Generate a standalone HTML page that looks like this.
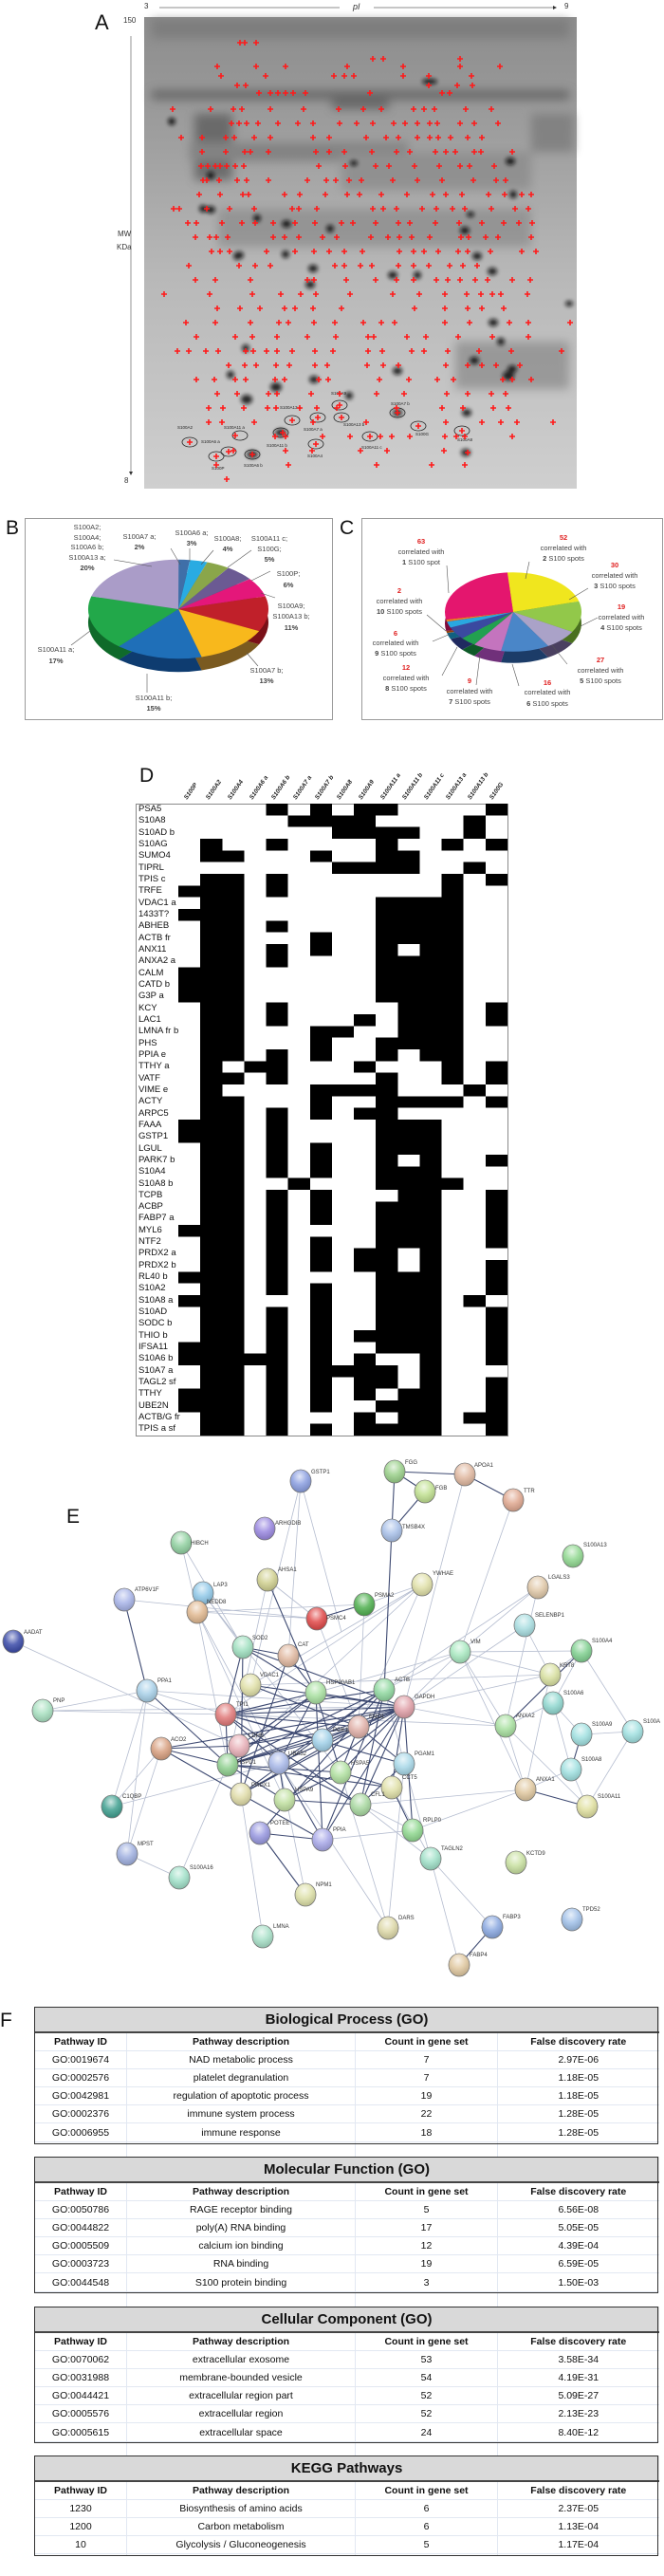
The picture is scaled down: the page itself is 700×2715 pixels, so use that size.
<!DOCTYPE html>
<html><head><meta charset="utf-8"><style>
*{margin:0;padding:0;box-sizing:border-box}
body{width:700px;height:2715px;background:#fff;position:relative;overflow:hidden;font-family:"Liberation Sans",sans-serif}
.a{position:absolute}
.big{font-size:21px;color:#111}
table.t{position:absolute;left:36px;width:658px;border-collapse:collapse;table-layout:fixed;font-family:"Liberation Sans Narrow","Liberation Sans",sans-serif;font-size:10.5px;color:#111}
table.t td{height:19.2px;text-align:center;border-left:1px solid #e2e8f2;border-bottom:1px solid #e2e8f2;padding:0;white-space:nowrap;overflow:hidden}
table.t tr.h td{font-weight:bold;font-size:10.5px}
table.t td.ti{background:#d9d9d9;font-weight:bold;font-size:15px;height:27px;border-bottom:2px solid #444;border-left:none}
.sec{position:absolute;left:36px;width:658px;border:1.5px solid #333}
.rl{position:absolute;left:146px;font-family:"Liberation Sans Narrow","Liberation Sans",sans-serif;font-size:9.5px;color:#111;line-height:12.33px}
</style></head><body>

<!-- Panel A -->
<svg class="a" style="left:0;top:0" width="700" height="530" viewBox="0 0 700 530">
<defs>
<linearGradient id="gg" x1="0" y1="0" x2="0" y2="1">
<stop offset="0" stop-color="#8c8c8c"/><stop offset="0.25" stop-color="#9e9e9e"/><stop offset="0.55" stop-color="#b8b8b8"/><stop offset="1" stop-color="#cfcfcf"/></linearGradient>
<filter id="bl"><feGaussianBlur stdDeviation="2"/></filter>
<filter id="bl2"><feGaussianBlur stdDeviation="5"/></filter>
</defs>
<text x="152" y="9" font-size="8" fill="#333">3</text>
<line x1="168" y1="8" x2="358" y2="8" stroke="#666" stroke-width="0.7"/>
<text x="372" y="10" font-size="9" font-style="italic" fill="#333">pI</text>
<line x1="394" y1="8" x2="583" y2="8" stroke="#666" stroke-width="0.7"/>
<path d="M583 6L587 8L583 10z" fill="#333"/>
<text x="595" y="9" font-size="8" fill="#333">9</text>
<text x="100" y="31" font-size="22" fill="#111">A</text>
<text x="130" y="24" font-size="8" fill="#333">150</text>
<line x1="138" y1="38" x2="138" y2="498" stroke="#666" stroke-width="0.7"/>
<path d="M136 497L138 501L140 497z" fill="#333"/>
<text x="124" y="249" font-size="8" fill="#333">MW</text>
<text x="123" y="263" font-size="8" fill="#333">KDa</text>
<text x="131" y="509" font-size="8" fill="#333">8</text>
<rect x="152" y="18" width="456" height="497" fill="url(#gg)"/>
<g filter="url(#bl2)" fill="#555" opacity="0.7">
<rect x="160" y="95" width="440" height="10"/>
<rect x="205" y="120" width="40" height="70"/>
<rect x="350" y="100" width="60" height="15"/>
<rect x="560" y="120" width="45" height="40" fill="#777"/>
<rect x="200" y="150" width="230" height="20" fill="#777"/>
<rect x="360" y="160" width="200" height="40" fill="#888"/>
<rect x="230" y="220" width="330" height="40" fill="#8a8a8a"/>
<rect x="480" y="360" width="120" height="50" fill="#888"/>
<rect x="160" y="20" width="440" height="20" fill="#777"/>
</g>
<g filter="url(#bl)" fill="#111" opacity="0.85">
<ellipse cx="181" cy="128" rx="4" ry="4"/><ellipse cx="222" cy="221" rx="5" ry="4"/><ellipse cx="252" cy="269" rx="5" ry="4"/><ellipse cx="271" cy="230" rx="4" ry="4"/><ellipse cx="302" cy="236" rx="5" ry="4"/><ellipse cx="330" cy="283" rx="5" ry="4"/><ellipse cx="348" cy="241" rx="4" ry="4"/><ellipse cx="373" cy="172" rx="4" ry="3"/><ellipse cx="414" cy="290" rx="5" ry="4"/><ellipse cx="440" cy="290" rx="4" ry="4"/><ellipse cx="490" cy="243" rx="5" ry="4"/><ellipse cx="503" cy="270" rx="5" ry="4"/><ellipse cx="519" cy="286" rx="5" ry="4"/><ellipse cx="538" cy="170" rx="5" ry="4"/><ellipse cx="541" cy="205" rx="4" ry="4"/><ellipse cx="496" cy="226" rx="4" ry="3"/><ellipse cx="260" cy="421" rx="6" ry="5"/><ellipse cx="291" cy="408" rx="6" ry="5"/><ellipse cx="331" cy="400" rx="5" ry="4"/><ellipse cx="419" cy="391" rx="5" ry="4"/><ellipse cx="500" cy="380" rx="5" ry="4"/><ellipse cx="536" cy="396" rx="6" ry="5"/><ellipse cx="540" cy="389" rx="5" ry="4"/><ellipse cx="528" cy="360" rx="4" ry="4"/><ellipse cx="492" cy="435" rx="5" ry="4"/><ellipse cx="259" cy="367" rx="4" ry="4"/><ellipse cx="243" cy="395" rx="4" ry="4"/><ellipse cx="327" cy="300" rx="5" ry="4"/><ellipse cx="301" cy="268" rx="4" ry="4"/><ellipse cx="222" cy="185" rx="4" ry="4"/><ellipse cx="214" cy="220" rx="4" ry="4"/><ellipse cx="250" cy="270" rx="4" ry="4"/><ellipse cx="520" cy="340" rx="5" ry="4"/><ellipse cx="600" cy="320" rx="4" ry="3"/><ellipse cx="266" cy="479" rx="6" ry="4"/><ellipse cx="296" cy="456" rx="6" ry="4"/><ellipse cx="419" cy="435" rx="5" ry="4"/><ellipse cx="368" cy="417" rx="4" ry="4"/><ellipse cx="491" cy="477" rx="5" ry="4"/><ellipse cx="453" cy="86" rx="8" ry="3"/>
</g>
<g fill="none" stroke="#222" stroke-width="0.8">
<ellipse cx="200" cy="466" rx="8" ry="5"/><ellipse cx="228" cy="481" rx="8" ry="5"/><ellipse cx="241" cy="476" rx="8" ry="5"/><ellipse cx="253" cy="459" rx="8" ry="5"/><ellipse cx="266" cy="479" rx="8" ry="5"/><ellipse cx="296" cy="456" rx="8" ry="5"/><ellipse cx="308" cy="443" rx="8" ry="5"/><ellipse cx="335" cy="440" rx="8" ry="5"/><ellipse cx="333" cy="468" rx="8" ry="5"/><ellipse cx="358" cy="427" rx="8" ry="5"/><ellipse cx="360" cy="440" rx="8" ry="5"/><ellipse cx="390" cy="460" rx="8" ry="5"/><ellipse cx="419" cy="435" rx="8" ry="5"/><ellipse cx="441" cy="449" rx="8" ry="5"/><ellipse cx="487" cy="454" rx="8" ry="5"/>
</g>
<g font-size="4.5" fill="#222">
<text x="349" y="416">S100A9</text><text x="295" y="431">S100A13 a</text><text x="412" y="427">S100A7 b</text><text x="187" y="452">S100A2</text><text x="236" y="452">S100A11 a</text><text x="320" y="454">S100A7 a</text><text x="362" y="449">S100A13 b</text><text x="438" y="459">S100G</text><text x="482" y="465">S100A8</text><text x="212" y="467">S100A6 a</text><text x="281" y="471">S100A11 b</text><text x="381" y="473">S100A11 c</text><text x="324" y="482">S100A4</text><text x="223" y="495">S100P</text><text x="257" y="492">S100A6 b</text>
</g>
<path stroke="#ff1a1a" stroke-width="1.6" fill="none" d="
M250 45h6M253 42v6M255 45h6M258 42v6M267 45h6M270 42v6
M390 62h6M393 59v6M401 62h6M404 59v6M482 62h6M485 59v6
M226 70h6M229 67v6M267 70h6M270 67v6M298 70h6M301 67v6M363 70h6M366 67v6M422 70h6M425 67v6M482 70h6M485 67v6M524 70h6M527 67v6
M230 80h6M233 77v6M277 80h6M280 77v6M349 80h6M352 77v6M360 80h6M363 77v6M370 80h6M373 77v6M422 80h6M425 77v6M449 80h6M452 77v6M494 80h6M497 77v6
M247 90h6M250 87v6M256 90h6M259 87v6M449 90h6M452 87v6M479 90h6M482 87v6M495 90h6M498 87v6
M270 98h6M273 95v6M282 98h6M285 95v6M290 98h6M293 95v6M298 98h6M301 95v6M306 98h6M309 95v6M319 98h6M322 95v6M387 98h6M390 95v6M463 98h6M466 95v6M471 98h6M474 95v6
M179 115h6M182 112v6M219 115h6M222 112v6M243 115h6M246 112v6M252 115h6M255 112v6M282 115h6M285 112v6M317 115h6M320 112v6M354 115h6M357 112v6M380 115h6M383 112v6M399 115h6M402 112v6M433 115h6M436 112v6M444 115h6M447 112v6M455 115h6M458 112v6M488 115h6M491 112v6M515 115h6M518 112v6
M241 130h6M244 127v6M249 130h6M252 127v6M257 130h6M260 127v6M269 130h6M272 127v6M290 130h6M293 127v6M311 130h6M314 127v6M327 130h6M330 127v6M355 130h6M358 127v6M373 130h6M376 127v6M390 130h6M393 127v6M412 130h6M415 127v6M424 130h6M427 127v6M437 130h6M440 127v6M450 130h6M453 127v6M458 130h6M461 127v6M482 130h6M485 127v6M497 130h6M500 127v6M522 130h6M525 127v6
M188 145h6M191 142v6M210 145h6M213 142v6M235 145h6M238 142v6M244 145h6M247 142v6M265 145h6M268 142v6M282 145h6M285 142v6M327 145h6M330 142v6M344 145h6M347 142v6M383 145h6M386 142v6M404 145h6M407 142v6M417 145h6M420 142v6M437 145h6M440 142v6M450 145h6M453 142v6M459 145h6M462 142v6M472 145h6M475 142v6M490 145h6M493 142v6M505 145h6M508 142v6
M210 160h6M213 157v6M235 160h6M238 157v6M255 160h6M258 157v6M261 160h6M264 157v6M280 160h6M283 157v6M330 160h6M333 157v6M344 160h6M347 157v6M360 160h6M363 157v6M389 160h6M392 157v6M415 160h6M418 157v6M429 160h6M432 157v6M456 160h6M459 157v6M467 160h6M470 157v6M477 160h6M480 157v6M497 160h6M500 157v6M504 160h6M507 157v6M537 160h6M540 157v6
M209 175h6M212 172v6M216 175h6M219 172v6M224 175h6M227 172v6M229 175h6M232 172v6M236 175h6M239 172v6M245 175h6M248 172v6M254 175h6M257 172v6M333 175h6M336 172v6M361 175h6M364 172v6M393 175h6M396 172v6M407 175h6M410 172v6M434 175h6M437 172v6M460 175h6M463 172v6M482 175h6M485 172v6M492 175h6M495 172v6M518 175h6M521 172v6
M211 190h6M214 187v6M215 190h6M218 187v6M228 190h6M231 187v6M247 190h6M250 187v6M257 190h6M260 187v6M280 190h6M283 187v6M321 190h6M324 187v6M341 190h6M344 187v6M351 190h6M354 187v6M365 190h6M368 187v6M378 190h6M381 187v6M411 190h6M414 187v6M437 190h6M440 187v6M463 190h6M466 187v6M496 190h6M499 187v6M520 190h6M523 187v6M530 190h6M533 187v6
M207 205h6M210 202v6M229 205h6M232 202v6M253 205h6M256 202v6M259 205h6M262 202v6M297 205h6M300 202v6M313 205h6M316 202v6M340 205h6M343 202v6M363 205h6M366 202v6M376 205h6M379 202v6M399 205h6M402 202v6M426 205h6M429 202v6M453 205h6M456 202v6M467 205h6M470 202v6M484 205h6M487 202v6M512 205h6M515 202v6M529 205h6M532 202v6M547 205h6M550 202v6M557 205h6M560 202v6
M180 220h6M183 217v6M186 220h6M189 217v6M215 220h6M218 217v6M239 220h6M242 217v6M265 220h6M268 217v6M305 220h6M308 217v6M312 220h6M315 217v6M331 220h6M334 217v6M390 220h6M393 217v6M401 220h6M404 217v6M415 220h6M418 217v6M442 220h6M445 217v6M457 220h6M460 217v6M474 220h6M477 217v6M487 220h6M490 217v6M515 220h6M518 217v6M540 220h6M543 217v6M554 220h6M557 217v6
M195 235h6M198 232v6M204 235h6M207 232v6M231 235h6M234 232v6M252 235h6M255 232v6M266 235h6M269 232v6M285 235h6M288 232v6M308 235h6M311 232v6M329 235h6M332 232v6M357 235h6M360 232v6M369 235h6M372 232v6M393 235h6M396 232v6M417 235h6M420 232v6M429 235h6M432 232v6M456 235h6M459 232v6M481 235h6M484 232v6M505 235h6M508 232v6M528 235h6M531 232v6M544 235h6M547 232v6M558 235h6M561 232v6
M203 250h6M206 247v6M218 250h6M221 247v6M225 250h6M228 247v6M237 250h6M240 247v6M285 250h6M288 247v6M297 250h6M300 247v6M312 250h6M315 247v6M337 250h6M340 247v6M352 250h6M355 247v6M388 250h6M391 247v6M406 250h6M409 247v6M418 250h6M421 247v6M431 250h6M434 247v6M450 250h6M453 247v6M483 250h6M486 247v6M491 250h6M494 247v6M509 250h6M512 247v6M522 250h6M525 247v6M557 250h6M560 247v6
M220 265h6M223 262v6M229 265h6M232 262v6M239 265h6M242 262v6M278 265h6M281 262v6M308 265h6M311 262v6M328 265h6M331 262v6M344 265h6M347 262v6M360 265h6M363 262v6M379 265h6M382 262v6M418 265h6M421 262v6M433 265h6M436 262v6M444 265h6M447 262v6M459 265h6M462 262v6M480 265h6M483 262v6M490 265h6M493 262v6M514 265h6M517 262v6M547 265h6M550 262v6M562 265h6M565 262v6
M196 280h6M199 277v6M249 280h6M252 277v6M266 280h6M269 277v6M282 280h6M285 277v6M350 280h6M353 277v6M360 280h6M363 277v6M377 280h6M380 277v6M389 280h6M392 277v6M417 280h6M420 277v6M433 280h6M436 277v6M449 280h6M452 277v6M471 280h6M474 277v6M485 280h6M488 277v6M500 280h6M503 277v6
M203 295h6M206 292v6M224 295h6M227 292v6M261 295h6M264 292v6M321 295h6M324 292v6M328 295h6M331 292v6M362 295h6M365 292v6M393 295h6M396 292v6M415 295h6M418 292v6M433 295h6M436 292v6M457 295h6M460 292v6M469 295h6M472 292v6M482 295h6M485 292v6M498 295h6M501 292v6M511 295h6M514 292v6M537 295h6M540 292v6M556 295h6M559 292v6
M170 310h6M173 307v6M218 310h6M221 307v6M263 310h6M266 307v6M293 310h6M296 307v6M314 310h6M317 307v6M330 310h6M333 307v6M366 310h6M369 307v6M411 310h6M414 307v6M439 310h6M442 307v6M466 310h6M469 307v6M489 310h6M492 307v6M504 310h6M507 307v6M516 310h6M519 307v6M525 310h6M528 307v6M553 310h6M556 307v6
M226 325h6M229 322v6M250 325h6M253 322v6M271 325h6M274 322v6M297 325h6M300 322v6M308 325h6M311 322v6M327 325h6M330 322v6M357 325h6M360 322v6M434 325h6M437 322v6M466 325h6M469 322v6M490 325h6M493 322v6M505 325h6M508 322v6M528 325h6M531 322v6
M193 340h6M196 337v6M224 340h6M227 337v6M261 340h6M264 337v6M291 340h6M294 337v6M301 340h6M304 337v6M328 340h6M331 337v6M350 340h6M353 337v6M380 340h6M383 337v6M399 340h6M402 337v6M413 340h6M416 337v6M466 340h6M469 337v6M492 340h6M495 337v6M534 340h6M537 337v6M554 340h6M557 337v6M598 340h6M601 337v6
M204 355h6M207 352v6M245 355h6M248 352v6M263 355h6M266 352v6M289 355h6M292 352v6M321 355h6M324 352v6M351 355h6M354 352v6M385 355h6M388 352v6M391 355h6M394 352v6M426 355h6M429 352v6M446 355h6M449 352v6M480 355h6M483 352v6M516 355h6M519 352v6M554 355h6M557 352v6
M184 370h6M187 367v6M196 370h6M199 367v6M214 370h6M217 367v6M227 370h6M230 367v6M256 370h6M259 367v6M264 370h6M267 367v6M278 370h6M281 367v6M289 370h6M292 367v6M305 370h6M308 367v6M329 370h6M332 367v6M348 370h6M351 367v6M385 370h6M388 367v6M400 370h6M403 367v6M431 370h6M434 367v6M444 370h6M447 367v6M469 370h6M472 367v6M502 370h6M505 367v6M536 370h6M539 367v6M589 370h6M592 367v6
M238 385h6M241 382v6M255 385h6M258 382v6M267 385h6M270 382v6M288 385h6M291 382v6M302 385h6M305 382v6M329 385h6M332 382v6M342 385h6M345 382v6M384 385h6M387 382v6M401 385h6M404 382v6M417 385h6M420 382v6M467 385h6M470 382v6M490 385h6M493 382v6M505 385h6M508 382v6M520 385h6M523 382v6M545 385h6M548 382v6
M204 400h6M207 397v6M223 400h6M226 397v6M245 400h6M248 397v6M256 400h6M259 397v6M287 400h6M290 397v6M297 400h6M300 397v6M333 400h6M336 397v6M343 400h6M346 397v6M397 400h6M400 397v6M428 400h6M431 397v6M458 400h6M461 397v6M475 400h6M478 397v6M527 400h6M530 397v6M537 400h6M540 397v6M557 400h6M560 397v6
M226 415h6M229 412v6M247 415h6M250 412v6M280 415h6M283 412v6M289 415h6M292 412v6M325 415h6M328 412v6M355 415h6M358 412v6M394 415h6M397 412v6M423 415h6M426 412v6M468 415h6M471 412v6M490 415h6M493 412v6M515 415h6M518 412v6M530 415h6M533 412v6
M217 430h6M220 427v6M232 430h6M235 427v6M254 430h6M257 427v6M279 430h6M282 427v6M288 430h6M291 427v6M313 430h6M316 427v6M331 430h6M334 427v6M352 430h6M355 427v6M415 430h6M418 427v6M463 430h6M466 427v6M485 430h6M488 427v6M517 430h6M520 427v6M533 430h6M536 427v6
M197 466h6M200 463v6M217 445h6M220 442v6M231 445h6M234 442v6M245 459h6M248 456v6M265 445h6M268 442v6M295 456h6M298 453v6M327 445h6M330 442v6M332 440h6M335 437v6M355 427h6M358 424v6M357 440h6M360 437v6M383 445h6M386 442v6M387 460h6M390 457v6M416 435h6M419 432v6M438 449h6M441 446v6M467 445h6M470 442v6M484 454h6M487 451v6M505 445h6M508 442v6M525 445h6M528 442v6M542 445h6M545 442v6M580 445h6M583 442v6
M225 481h6M228 478v6M238 476h6M241 473v6M263 479h6M266 476v6M287 460h6M290 457v6M298 460h6M301 457v6M305 443h6M308 440v6M330 468h6M333 465v6M337 460h6M340 457v6M366 460h6M369 457v6M398 460h6M401 457v6M410 460h6M413 457v6M429 460h6M432 457v6M466 460h6M469 457v6M478 460h6M481 457v6M487 460h6M490 457v6M537 460h6M540 457v6
M243 475h6M246 472v6M298 475h6M301 472v6M326 475h6M329 472v6M377 475h6M380 472v6M405 475h6M408 472v6M465 475h6M468 472v6M490 477h6M493 474v6
M225 490h6M228 487v6M301 490h6M304 487v6M394 490h6M397 487v6M452 490h6M455 487v6M487 490h6M490 487v6M236 505h6M239 502v6
"/>
</svg>

<!-- Panel B -->
<div class="a" style="left:26px;top:546px;width:325px;height:213px;border:1px solid #9a9a9a"></div>
<div class="a big" style="left:6px;top:545px">B</div>
<svg class="a" style="left:0;top:540px" width="360" height="225" viewBox="0 540 360 225">
<g transform="translate(188,656) scale(1,0.55)" fill="none" stroke-width="95">
<circle r="47.5" stroke="#2c4a70" stroke-dasharray="6.22 298.45" transform="rotate(-90)"/>
<circle r="47.5" stroke="#1a7aa0" stroke-dasharray="9.33 298.45" transform="rotate(-82.5)"/>
<circle r="47.5" stroke="#5c7530" stroke-dasharray="12.44 298.45" transform="rotate(-71.25)"/>
<circle r="47.5" stroke="#463a68" stroke-dasharray="15.54 298.45" transform="rotate(-56.25)"/>
<circle r="47.5" stroke="#8a1050" stroke-dasharray="18.65 298.45" transform="rotate(-37.5)"/>
<circle r="47.5" stroke="#7a1018" stroke-dasharray="34.2 298.45" transform="rotate(-15)"/>
<circle r="47.5" stroke="#7a5a20" stroke-dasharray="40.41 298.45" transform="rotate(26.25)"/>
<circle r="47.5" stroke="#0e3c70" stroke-dasharray="46.63 298.45" transform="rotate(75)"/>
<circle r="47.5" stroke="#0f6a2a" stroke-dasharray="52.85 298.45" transform="rotate(131.25)"/>
<circle r="47.5" stroke="#5a4a6a" stroke-dasharray="62.18 298.45" transform="rotate(195)"/>
</g>
<g transform="translate(188,642) scale(1,0.55)" fill="none" stroke-width="95">
<circle r="47.5" stroke="#3f6fa8" stroke-dasharray="6.22 298.45" transform="rotate(-90)"/>
<circle r="47.5" stroke="#29abe2" stroke-dasharray="9.33 298.45" transform="rotate(-82.5)"/>
<circle r="47.5" stroke="#8aa64a" stroke-dasharray="12.44 298.45" transform="rotate(-71.25)"/>
<circle r="47.5" stroke="#6b5a93" stroke-dasharray="15.54 298.45" transform="rotate(-56.25)"/>
<circle r="47.5" stroke="#e4177a" stroke-dasharray="18.65 298.45" transform="rotate(-37.5)"/>
<circle r="47.5" stroke="#c0202a" stroke-dasharray="34.2 298.45" transform="rotate(-15)"/>
<circle r="47.5" stroke="#f8b81c" stroke-dasharray="40.41 298.45" transform="rotate(26.25)"/>
<circle r="47.5" stroke="#1f6fb8" stroke-dasharray="46.63 298.45" transform="rotate(75)"/>
<circle r="47.5" stroke="#22a84a" stroke-dasharray="52.85 298.45" transform="rotate(131.25)"/>
<circle r="47.5" stroke="#aa9cc8" stroke-dasharray="62.18 298.45" transform="rotate(195)"/>
</g>
<g stroke="#555" stroke-width="0.6" fill="none">
<path d="M120 590L160 597M180 578L190 595M200 578L200 592M225 580L212 595M265 580L240 598M285 602L265 612M290 630L275 625M272 702L260 688M155 730L155 710M75 680L95 665"/>
</g>
<g font-size="7.5" fill="#444" text-anchor="middle">
<text x="92" y="558">S100A2;</text><text x="92" y="569">S100A4;</text><text x="92" y="579">S100A6 b;</text><text x="92" y="590">S100A13 a;</text><text x="92" y="601" font-weight="bold">20%</text>
<text x="147" y="568">S100A7 a;</text><text x="147" y="579" font-weight="bold">2%</text>
<text x="202" y="564">S100A6 a;</text><text x="202" y="575" font-weight="bold">3%</text>
<text x="240" y="570">S100A8;</text><text x="240" y="581" font-weight="bold">4%</text>
<text x="284" y="570">S100A11 c;</text><text x="284" y="581">S100G;</text><text x="284" y="592" font-weight="bold">5%</text>
<text x="304" y="607">S100P;</text><text x="304" y="619" font-weight="bold">6%</text>
<text x="307" y="641">S100A9;</text><text x="307" y="652">S100A13 b;</text><text x="307" y="664" font-weight="bold">11%</text>
<text x="281" y="709">S100A7 b;</text><text x="281" y="720" font-weight="bold">13%</text>
<text x="162" y="738">S100A11 b;</text><text x="162" y="749" font-weight="bold">15%</text>
<text x="59" y="687">S100A11 a;</text><text x="59" y="699" font-weight="bold">17%</text>
</g>
</svg>

<!-- Panel C -->
<div class="a" style="left:381px;top:546px;width:318px;height:213px;border:1px solid #9a9a9a"></div>
<div class="a big" style="left:358px;top:545px">C</div>
<svg class="a" style="left:380px;top:540px" width="320" height="225" viewBox="380 540 320 225">
<g transform="translate(541,657) scale(1,0.58)" fill="none" stroke-width="72">
<circle r="36" stroke="#7a7a10" stroke-dasharray="49.83 226.19" transform="rotate(-95)"/>
<circle r="36" stroke="#4a7020" stroke-dasharray="28.78 226.19" transform="rotate(-15.7)"/>
<circle r="36" stroke="#4a4060" stroke-dasharray="18.22 226.19" transform="rotate(30.1)"/>
<circle r="36" stroke="#1c3c68" stroke-dasharray="25.89 226.19" transform="rotate(59.1)"/>
<circle r="36" stroke="#70307a" stroke-dasharray="15.33 226.19" transform="rotate(100.3)"/>
<circle r="36" stroke="#0e5a28" stroke-dasharray="8.61 226.19" transform="rotate(124.7)"/>
<circle r="36" stroke="#202a60" stroke-dasharray="11.5 226.19" transform="rotate(138.4)"/>
<circle r="36" stroke="#106080" stroke-dasharray="5.78 226.19" transform="rotate(156.7)"/>
<circle r="36" stroke="#904010" stroke-dasharray="1.95 226.19" transform="rotate(165.9)"/>
<circle r="36" stroke="#800a3a" stroke-dasharray="60.38 226.19" transform="rotate(169)"/>
</g>
<g transform="translate(541,645) scale(1,0.58)" fill="none" stroke-width="72">
<circle r="36" stroke="#f0e61e" stroke-dasharray="49.83 226.19" transform="rotate(-95)"/>
<circle r="36" stroke="#92c84a" stroke-dasharray="28.78 226.19" transform="rotate(-15.7)"/>
<circle r="36" stroke="#aaa2c8" stroke-dasharray="18.22 226.19" transform="rotate(30.1)"/>
<circle r="36" stroke="#4a86c8" stroke-dasharray="25.89 226.19" transform="rotate(59.1)"/>
<circle r="36" stroke="#c474be" stroke-dasharray="15.33 226.19" transform="rotate(100.3)"/>
<circle r="36" stroke="#22a050" stroke-dasharray="8.61 226.19" transform="rotate(124.7)"/>
<circle r="36" stroke="#3a4aa0" stroke-dasharray="11.5 226.19" transform="rotate(138.4)"/>
<circle r="36" stroke="#29a8e0" stroke-dasharray="5.78 226.19" transform="rotate(156.7)"/>
<circle r="36" stroke="#f08020" stroke-dasharray="1.95 226.19" transform="rotate(165.9)"/>
<circle r="36" stroke="#e4166e" stroke-dasharray="60.38 226.19" transform="rotate(169)"/>
</g>
<g stroke="#555" stroke-width="0.6" fill="none">
<path d="M471 596L473 625M558 592L554 610M620 620L600 632M630 651L612 660M450 648L470 665M456 676L475 668M466 712L482 682M502 722L506 690M547 723L540 700M598 700L582 680"/>
</g>
<g font-size="7.5" fill="#444" text-anchor="middle">
<text x="444" y="573" fill="#e02020" font-weight="bold">63</text><text x="444" y="584">correlated with</text><text x="444" y="595"><tspan font-weight="bold">1</tspan> S100 spot</text>
<text x="594" y="569" fill="#e02020" font-weight="bold">52</text><text x="594" y="580">correlated with</text><text x="594" y="591"><tspan font-weight="bold">2</tspan> S100 spots</text>
<text x="648" y="598" fill="#e02020" font-weight="bold">30</text><text x="648" y="609">correlated with</text><text x="648" y="620"><tspan font-weight="bold">3</tspan> S100 spots</text>
<text x="421" y="625" fill="#e02020" font-weight="bold">2</text><text x="421" y="636">correlated with</text><text x="421" y="647"><tspan font-weight="bold">10</tspan> S100 spots</text>
<text x="655" y="642" fill="#e02020" font-weight="bold">19</text><text x="655" y="653">correlated with</text><text x="655" y="664"><tspan font-weight="bold">4</tspan> S100 spots</text>
<text x="417" y="670" fill="#e02020" font-weight="bold">6</text><text x="417" y="680">correlated with</text><text x="417" y="691"><tspan font-weight="bold">9</tspan> S100 spots</text>
<text x="633" y="698" fill="#e02020" font-weight="bold">27</text><text x="633" y="709">correlated with</text><text x="633" y="720"><tspan font-weight="bold">5</tspan> S100 spots</text>
<text x="428" y="706" fill="#e02020" font-weight="bold">12</text><text x="428" y="717">correlated with</text><text x="428" y="728"><tspan font-weight="bold">8</tspan> S100 spots</text>
<text x="495" y="720" fill="#e02020" font-weight="bold">9</text><text x="495" y="731">correlated with</text><text x="495" y="742"><tspan font-weight="bold">7</tspan> S100 spots</text>
<text x="577" y="722" fill="#e02020" font-weight="bold">16</text><text x="577" y="732">correlated with</text><text x="577" y="744"><tspan font-weight="bold">6</tspan> S100 spots</text>
</g>
</svg>

<!-- Panel D -->
<div class="a big" style="left:147px;top:806px">D</div>
<svg class="a" style="left:180px;top:790px" width="370" height="60" viewBox="180 790 370 60">
<g font-size="6.5" font-weight="bold" font-style="italic" fill="#222">
<text transform="translate(197,843) rotate(-55)">S100P</text>
<text transform="translate(220,843) rotate(-55)">S100A2</text>
<text transform="translate(243,843) rotate(-55)">S100A4</text>
<text transform="translate(266,843) rotate(-55)">S100A6 a</text>
<text transform="translate(289,843) rotate(-55)">S100A6 b</text>
<text transform="translate(312,843) rotate(-55)">S100A7 a</text>
<text transform="translate(335,843) rotate(-55)">S100A7 b</text>
<text transform="translate(358,843) rotate(-55)">S100A8</text>
<text transform="translate(381,843) rotate(-55)">S100A9</text>
<text transform="translate(404,843) rotate(-55)">S100A11 a</text>
<text transform="translate(427,843) rotate(-55)">S100A11 b</text>
<text transform="translate(450,843) rotate(-55)">S100A11 c</text>
<text transform="translate(473,843) rotate(-55)">S100A13 a</text>
<text transform="translate(496,843) rotate(-55)">S100A13 b</text>
<text transform="translate(519,843) rotate(-55)">S100G</text>
</g>
</svg>
<div class="a" style="left:143px;top:847px;width:393px;height:667px;border:1px solid #8a8a8a"></div>
<svg class="a" style="left:188px;top:847px" width="347" height="666" viewBox="0 0 15 54" preserveAspectRatio="none" shape-rendering="crispEdges">
<g fill="#000">
<rect x="4" y="0" width="1" height="1"/><rect x="6" y="0" width="1" height="1"/><rect x="8" y="0" width="2" height="1"/><rect x="14" y="0" width="1" height="1"/>
<rect x="5" y="1" width="4" height="1"/><rect x="13" y="1" width="1" height="1"/>
<rect x="7" y="2" width="2" height="1"/><rect x="9" y="2" width="2" height="1"/><rect x="13" y="2" width="1" height="1"/>
<rect x="1" y="3" width="1" height="1"/><rect x="4" y="3" width="1" height="1"/><rect x="9" y="3" width="1" height="1"/><rect x="12" y="3" width="1" height="1"/><rect x="14" y="3" width="1" height="1"/>
<rect x="1" y="4" width="2" height="1"/><rect x="6" y="4" width="1" height="1"/><rect x="9" y="4" width="2" height="1"/>
<rect x="7" y="5" width="2" height="1"/><rect x="9" y="5" width="2" height="1"/><rect x="13" y="5" width="1" height="1"/>
<rect x="1" y="6" width="2" height="1"/><rect x="4" y="6" width="1" height="1"/><rect x="12" y="6" width="1" height="1"/><rect x="14" y="6" width="1" height="1"/>
<rect x="0" y="7" width="3" height="1"/><rect x="4" y="7" width="1" height="1"/><rect x="12" y="7" width="1" height="1"/>
<rect x="1" y="8" width="2" height="1"/><rect x="9" y="8" width="4" height="1"/>
<rect x="0" y="9" width="3" height="1"/><rect x="9" y="9" width="4" height="1"/>
<rect x="1" y="10" width="2" height="1"/><rect x="4" y="10" width="1" height="1"/><rect x="9" y="10" width="4" height="1"/>
<rect x="1" y="11" width="2" height="1"/><rect x="6" y="11" width="1" height="1"/><rect x="9" y="11" width="4" height="1"/>
<rect x="1" y="12" width="2" height="1"/><rect x="4" y="12" width="1" height="1"/><rect x="6" y="12" width="1" height="1"/><rect x="9" y="12" width="1" height="1"/><rect x="11" y="12" width="2" height="1"/>
<rect x="1" y="13" width="2" height="1"/><rect x="4" y="13" width="1" height="1"/><rect x="9" y="13" width="4" height="1"/>
<rect x="0" y="14" width="3" height="3"/><rect x="9" y="14" width="4" height="3"/>
<rect x="1" y="17" width="2" height="1"/><rect x="4" y="17" width="1" height="1"/><rect x="10" y="17" width="3" height="1"/><rect x="14" y="17" width="1" height="1"/>
<rect x="1" y="18" width="2" height="1"/><rect x="4" y="18" width="1" height="1"/><rect x="8" y="18" width="1" height="1"/><rect x="10" y="18" width="3" height="1"/><rect x="14" y="18" width="1" height="1"/>
<rect x="1" y="19" width="2" height="1"/><rect x="6" y="19" width="2" height="1"/><rect x="10" y="19" width="3" height="1"/>
<rect x="1" y="20" width="2" height="1"/><rect x="6" y="20" width="1" height="1"/><rect x="9" y="20" width="4" height="1"/>
<rect x="1" y="21" width="2" height="1"/><rect x="4" y="21" width="1" height="1"/><rect x="6" y="21" width="1" height="1"/><rect x="9" y="21" width="1" height="1"/><rect x="11" y="21" width="2" height="1"/>
<rect x="1" y="22" width="1" height="1"/><rect x="3" y="22" width="2" height="1"/><rect x="8" y="22" width="1" height="1"/><rect x="12" y="22" width="1" height="1"/><rect x="14" y="22" width="1" height="1"/>
<rect x="1" y="23" width="2" height="1"/><rect x="4" y="23" width="1" height="1"/><rect x="9" y="23" width="1" height="1"/><rect x="12" y="23" width="1" height="1"/><rect x="14" y="23" width="1" height="1"/>
<rect x="1" y="24" width="1" height="1"/><rect x="6" y="24" width="3" height="1"/><rect x="9" y="24" width="1" height="1"/><rect x="13" y="24" width="1" height="1"/>
<rect x="1" y="25" width="2" height="1"/><rect x="6" y="25" width="1" height="1"/><rect x="9" y="25" width="4" height="1"/><rect x="14" y="25" width="1" height="1"/>
<rect x="1" y="26" width="2" height="1"/><rect x="4" y="26" width="1" height="1"/><rect x="6" y="26" width="1" height="1"/><rect x="8" y="26" width="2" height="1"/>
<rect x="0" y="27" width="3" height="2"/><rect x="4" y="27" width="1" height="2"/><rect x="9" y="27" width="3" height="2"/>
<rect x="1" y="29" width="2" height="1"/><rect x="4" y="29" width="1" height="1"/><rect x="6" y="29" width="1" height="1"/><rect x="9" y="29" width="3" height="1"/>
<rect x="1" y="30" width="2" height="1"/><rect x="4" y="30" width="1" height="1"/><rect x="6" y="30" width="1" height="1"/><rect x="9" y="30" width="1" height="1"/><rect x="11" y="30" width="1" height="1"/><rect x="14" y="30" width="1" height="1"/>
<rect x="1" y="31" width="2" height="1"/><rect x="4" y="31" width="1" height="1"/><rect x="6" y="31" width="1" height="1"/><rect x="9" y="31" width="3" height="1"/>
<rect x="1" y="32" width="2" height="1"/><rect x="5" y="32" width="1" height="1"/><rect x="9" y="32" width="4" height="1"/>
<rect x="1" y="33" width="2" height="1"/><rect x="4" y="33" width="1" height="1"/><rect x="6" y="33" width="1" height="1"/><rect x="10" y="33" width="2" height="1"/><rect x="14" y="33" width="1" height="1"/>
<rect x="1" y="34" width="2" height="2"/><rect x="4" y="34" width="1" height="2"/><rect x="6" y="34" width="1" height="2"/><rect x="9" y="34" width="3" height="2"/><rect x="14" y="34" width="1" height="2"/>
<rect x="0" y="36" width="3" height="1"/><rect x="4" y="36" width="1" height="1"/><rect x="9" y="36" width="3" height="1"/><rect x="14" y="36" width="1" height="1"/>
<rect x="1" y="37" width="2" height="1"/><rect x="4" y="37" width="1" height="1"/><rect x="6" y="37" width="1" height="1"/><rect x="9" y="37" width="3" height="1"/><rect x="14" y="37" width="1" height="1"/>
<rect x="1" y="38" width="2" height="1"/><rect x="4" y="38" width="1" height="1"/><rect x="6" y="38" width="1" height="1"/><rect x="8" y="38" width="2" height="1"/><rect x="11" y="38" width="1" height="1"/>
<rect x="1" y="39" width="2" height="1"/><rect x="4" y="39" width="1" height="1"/><rect x="6" y="39" width="1" height="1"/><rect x="8" y="39" width="1" height="1"/><rect x="9" y="39" width="1" height="1"/><rect x="11" y="39" width="1" height="1"/><rect x="14" y="39" width="1" height="1"/>
<rect x="0" y="40" width="3" height="1"/><rect x="4" y="40" width="1" height="1"/><rect x="9" y="40" width="3" height="1"/><rect x="14" y="40" width="1" height="1"/>
<rect x="1" y="41" width="2" height="1"/><rect x="4" y="41" width="1" height="1"/><rect x="6" y="41" width="1" height="1"/><rect x="9" y="41" width="3" height="1"/><rect x="14" y="41" width="1" height="1"/>
<rect x="0" y="42" width="3" height="1"/><rect x="6" y="42" width="1" height="1"/><rect x="9" y="42" width="3" height="1"/><rect x="13" y="42" width="1" height="1"/>
<rect x="1" y="43" width="2" height="2"/><rect x="4" y="43" width="1" height="2"/><rect x="6" y="43" width="1" height="2"/><rect x="9" y="43" width="3" height="2"/><rect x="14" y="43" width="1" height="2"/>
<rect x="1" y="45" width="2" height="1"/><rect x="4" y="45" width="1" height="1"/><rect x="6" y="45" width="1" height="1"/><rect x="8" y="45" width="4" height="1"/><rect x="14" y="45" width="1" height="1"/>
<rect x="0" y="46" width="3" height="1"/><rect x="4" y="46" width="1" height="1"/><rect x="6" y="46" width="1" height="1"/><rect x="9" y="46" width="3" height="1"/><rect x="14" y="46" width="1" height="1"/>
<rect x="0" y="47" width="5" height="1"/><rect x="6" y="47" width="1" height="1"/><rect x="8" y="47" width="1" height="1"/><rect x="11" y="47" width="1" height="1"/><rect x="14" y="47" width="1" height="1"/>
<rect x="1" y="48" width="2" height="1"/><rect x="4" y="48" width="1" height="1"/><rect x="6" y="48" width="4" height="1"/><rect x="11" y="48" width="1" height="1"/>
<rect x="1" y="49" width="2" height="1"/><rect x="4" y="49" width="1" height="1"/><rect x="6" y="49" width="1" height="1"/><rect x="8" y="49" width="2" height="1"/><rect x="11" y="49" width="1" height="1"/><rect x="14" y="49" width="1" height="1"/>
<rect x="0" y="50" width="3" height="1"/><rect x="4" y="50" width="1" height="1"/><rect x="6" y="50" width="1" height="1"/><rect x="8" y="50" width="1" height="1"/><rect x="10" y="50" width="2" height="1"/><rect x="14" y="50" width="1" height="1"/>
<rect x="0" y="51" width="3" height="1"/><rect x="4" y="51" width="1" height="1"/><rect x="6" y="51" width="1" height="1"/><rect x="9" y="51" width="3" height="1"/><rect x="14" y="51" width="1" height="1"/>
<rect x="1" y="52" width="2" height="1"/><rect x="4" y="52" width="1" height="1"/><rect x="8" y="52" width="1" height="1"/><rect x="10" y="52" width="2" height="1"/><rect x="13" y="52" width="2" height="1"/>
<rect x="1" y="53" width="2" height="1"/><rect x="4" y="53" width="1" height="1"/><rect x="6" y="53" width="1" height="1"/><rect x="8" y="53" width="4" height="1"/><rect x="14" y="53" width="1" height="1"/>
</g></svg>
<div class="rl" style="top:847px">PSA5<br>S10A8<br>S10AD b<br>S10AG<br>SUMO4<br>TIPRL<br>TPIS c<br>TRFE<br>VDAC1 a<br>1433T?<br>ABHEB<br>ACTB fr<br>ANX11<br>ANXA2 a<br>CALM<br>CATD b<br>G3P a<br>KCY<br>LAC1<br>LMNA fr b<br>PHS<br>PPIA e<br>TTHY a<br>VATF<br>VIME e<br>ACTY<br>ARPC5<br>FAAA<br>GSTP1<br>LGUL<br>PARK7 b<br>S10A4<br>S10A8 b<br>TCPB<br>ACBP<br>FABP7 a<br>MYL6<br>NTF2<br>PRDX2 a<br>PRDX2 b<br>RL40 b<br>S10A2<br>S10A8 a<br>S10AD<br>SODC b<br>THIO b<br>IFSA11<br>S10A6 b<br>S10A7 a<br>TAGL2 sf<br>TTHY<br>UBE2N<br>ACTB/G fr<br>TPIS a sf</div>

<!-- Panel E -->
<div class="a big" style="left:70px;top:1587px">E</div>
<svg class="a" style="left:0;top:1530px" width="700" height="560" viewBox="0 1530 700 560">
<defs><radialGradient id="hl" cx="0.45" cy="0.3" r="0.7"><stop offset="0" stop-color="#fff" stop-opacity="0.75"/><stop offset="0.5" stop-color="#fff" stop-opacity="0.15"/><stop offset="1" stop-color="#000" stop-opacity="0.15"/></radialGradient></defs>
<path fill="none" stroke="#b4bccf" stroke-width="0.8" d="M317 1561L264 1776M317 1561L304 1745M317 1561L360 1720M191 1626L208 1699M191 1626L256 1736M45 1803L155 1782M45 1803L238 1807M45 1803L426 1799M14 1730L252 1840M131 1686L334 1706M208 1699L384 1691M208 1699L294 1858M208 1699L240 1860M208 1699L300 1897M214 1679L359 1868M214 1679L256 1736M445 1670L240 1860M445 1670L238 1807M445 1670L378 1820M445 1670L264 1776M490 1554L426 1799M541 1581L485 1741M485 1741L405 1781M485 1741L426 1799M485 1741L533 1819M485 1741L613 1740M485 1741L580 1765M485 1741L567 1673M485 1741L554 1886M485 1741L333 1784M567 1673L405 1781M567 1673L533 1819M553 1713L426 1799M553 1713L580 1765M613 1740L583 1795M613 1740L580 1765M583 1795L533 1819M583 1795L602 1865M583 1795L613 1828M613 1740L667 1825M580 1765L554 1886M580 1765L426 1799M533 1819L426 1799M533 1819L619 1904M533 1819L554 1886M613 1828L667 1825M602 1865L619 1904M667 1825L619 1904M554 1886L602 1865M554 1886L380 1902M118 1904L170 1843M118 1904L155 1782M118 1904L294 1858M134 1954L155 1782M134 1954L189 1979M134 1954L170 1843M189 1979L240 1860M277 2041L254 1891M409 2032L426 1859M409 2032L359 1868M409 2032L294 1858M454 1959L413 1884M454 1959L380 1902M454 1959L405 1781M454 1959L519 2031M454 1959L484 2071M435 1929L340 1939M435 1929L554 1886M435 1929L294 1858M322 1997L294 1858M334 1706L208 1699M334 1706L378 1820M384 1691L378 1820M384 1691L445 1670M282 1665L240 1860M282 1665L334 1706M155 1782L426 1799M155 1782L238 1807M238 1807L533 1819M264 1776L580 1765"/>
<path fill="none" stroke="#3e4a72" stroke-width="1.1" d="M238 1807L426 1799M238 1807L340 1834M238 1807L378 1820M238 1807L240 1860M238 1807L294 1858M238 1807L405 1781M238 1807L333 1784M238 1807L380 1902M238 1807L426 1859M426 1799L340 1834M426 1799L240 1860M426 1799L294 1858M426 1799L252 1840M426 1799L359 1868M426 1799L300 1897M426 1799L254 1891M426 1799L333 1784M426 1799L380 1902M426 1799L413 1884M426 1799L435 1929M426 1799L340 1939M426 1799L264 1776M426 1799L256 1736M405 1781L240 1860M405 1781L294 1858M405 1781L380 1902M405 1781L340 1939M405 1781L254 1891M405 1781L274 1932M405 1781L413 1613M240 1860L300 1897M240 1860L359 1868M240 1860L333 1784M240 1860L340 1834M240 1860L378 1820M240 1860L413 1884M240 1860L170 1843M240 1860L155 1782M294 1858L340 1939M294 1858L300 1897M294 1858L333 1784M294 1858L378 1820M294 1858L380 1902M378 1820L252 1840M378 1820L359 1868M378 1820L254 1891M378 1820L426 1859M378 1820L264 1776M359 1868L333 1784M359 1868L300 1897M359 1868L413 1884M340 1939L333 1784M340 1939L274 1932M274 1932L322 1997M254 1891L340 1939M254 1891L256 1736M254 1891L304 1745M304 1745L256 1736M304 1745L333 1784M256 1736L238 1807M170 1843L252 1840M170 1843L254 1891M170 1843L426 1799M155 1782L131 1686M282 1665L333 1784M334 1706L384 1691M416 1551L448 1572M416 1551L490 1554M448 1572L413 1613M416 1551L413 1613M490 1554L541 1581M519 2031L484 2071M602 1865L613 1828M554 1886L619 1904M533 1819L613 1740M252 1840L333 1784M300 1897L380 1902M256 1736L333 1784M413 1884L435 1929M426 1859L380 1902"/>
<g stroke="#777" stroke-width="0.6">
<g transform="translate(317,1561)"><ellipse rx="11" ry="12" fill="#8a9ee0"/><ellipse rx="11" ry="12" fill="url(#hl)"/></g>
<g transform="translate(416,1551)"><ellipse rx="11" ry="12" fill="#9ad08a"/><ellipse rx="11" ry="12" fill="url(#hl)"/></g>
<g transform="translate(490,1554)"><ellipse rx="11" ry="12" fill="#e0b8a0"/><ellipse rx="11" ry="12" fill="url(#hl)"/></g>
<g transform="translate(448,1572)"><ellipse rx="11" ry="12" fill="#c0e090"/><ellipse rx="11" ry="12" fill="url(#hl)"/></g>
<g transform="translate(541,1581)"><ellipse rx="11" ry="12" fill="#e0a890"/><ellipse rx="11" ry="12" fill="url(#hl)"/></g>
<g transform="translate(413,1613)"><ellipse rx="11" ry="12" fill="#a8c0e8"/><ellipse rx="11" ry="12" fill="url(#hl)"/></g>
<g transform="translate(279,1611)"><ellipse rx="11" ry="12" fill="#9a88e0"/><ellipse rx="11" ry="12" fill="url(#hl)"/></g>
<g transform="translate(191,1626)"><ellipse rx="11" ry="12" fill="#90d0a0"/><ellipse rx="11" ry="12" fill="url(#hl)"/></g>
<g transform="translate(604,1640)"><ellipse rx="11" ry="12" fill="#90d890"/><ellipse rx="11" ry="12" fill="url(#hl)"/></g>
<g transform="translate(282,1665)"><ellipse rx="11" ry="12" fill="#d0d090"/><ellipse rx="11" ry="12" fill="url(#hl)"/></g>
<g transform="translate(445,1670)"><ellipse rx="11" ry="12" fill="#e0e0a8"/><ellipse rx="11" ry="12" fill="url(#hl)"/></g>
<g transform="translate(214,1679)"><ellipse rx="11" ry="12" fill="#90c8e8"/><ellipse rx="11" ry="12" fill="url(#hl)"/></g>
<g transform="translate(131,1686)"><ellipse rx="11" ry="12" fill="#a8b4e8"/><ellipse rx="11" ry="12" fill="url(#hl)"/></g>
<g transform="translate(567,1673)"><ellipse rx="11" ry="12" fill="#e0c8a8"/><ellipse rx="11" ry="12" fill="url(#hl)"/></g>
<g transform="translate(384,1691)"><ellipse rx="11" ry="12" fill="#50b050"/><ellipse rx="11" ry="12" fill="url(#hl)"/></g>
<g transform="translate(208,1699)"><ellipse rx="11" ry="12" fill="#e0b890"/><ellipse rx="11" ry="12" fill="url(#hl)"/></g>
<g transform="translate(334,1706)"><ellipse rx="11" ry="12" fill="#e04848"/><ellipse rx="11" ry="12" fill="url(#hl)"/></g>
<g transform="translate(553,1713)"><ellipse rx="11" ry="12" fill="#a8dde0"/><ellipse rx="11" ry="12" fill="url(#hl)"/></g>
<g transform="translate(14,1730)"><ellipse rx="11" ry="12" fill="#3a4aa8"/><ellipse rx="11" ry="12" fill="url(#hl)"/></g>
<g transform="translate(256,1736)"><ellipse rx="11" ry="12" fill="#a0e0c0"/><ellipse rx="11" ry="12" fill="url(#hl)"/></g>
<g transform="translate(304,1745)"><ellipse rx="11" ry="12" fill="#e0b8a0"/><ellipse rx="11" ry="12" fill="url(#hl)"/></g>
<g transform="translate(485,1741)"><ellipse rx="11" ry="12" fill="#a8e8c0"/><ellipse rx="11" ry="12" fill="url(#hl)"/></g>
<g transform="translate(613,1740)"><ellipse rx="11" ry="12" fill="#80d090"/><ellipse rx="11" ry="12" fill="url(#hl)"/></g>
<g transform="translate(580,1765)"><ellipse rx="11" ry="12" fill="#d8e0a0"/><ellipse rx="11" ry="12" fill="url(#hl)"/></g>
<g transform="translate(155,1782)"><ellipse rx="11" ry="12" fill="#a8d0e8"/><ellipse rx="11" ry="12" fill="url(#hl)"/></g>
<g transform="translate(264,1776)"><ellipse rx="11" ry="12" fill="#e0e0a8"/><ellipse rx="11" ry="12" fill="url(#hl)"/></g>
<g transform="translate(333,1784)"><ellipse rx="11" ry="12" fill="#a8e0a0"/><ellipse rx="11" ry="12" fill="url(#hl)"/></g>
<g transform="translate(405,1781)"><ellipse rx="11" ry="12" fill="#90d8a0"/><ellipse rx="11" ry="12" fill="url(#hl)"/></g>
<g transform="translate(426,1799)"><ellipse rx="11" ry="12" fill="#e0a0a8"/><ellipse rx="11" ry="12" fill="url(#hl)"/></g>
<g transform="translate(583,1795)"><ellipse rx="11" ry="12" fill="#90d8d0"/><ellipse rx="11" ry="12" fill="url(#hl)"/></g>
<g transform="translate(45,1803)"><ellipse rx="11" ry="12" fill="#a8e0c0"/><ellipse rx="11" ry="12" fill="url(#hl)"/></g>
<g transform="translate(238,1807)"><ellipse rx="11" ry="12" fill="#e07878"/><ellipse rx="11" ry="12" fill="url(#hl)"/></g>
<g transform="translate(378,1820)"><ellipse rx="11" ry="12" fill="#e0b0a8"/><ellipse rx="11" ry="12" fill="url(#hl)"/></g>
<g transform="translate(533,1819)"><ellipse rx="11" ry="12" fill="#a8e0a0"/><ellipse rx="11" ry="12" fill="url(#hl)"/></g>
<g transform="translate(613,1828)"><ellipse rx="11" ry="12" fill="#a0e0e0"/><ellipse rx="11" ry="12" fill="url(#hl)"/></g>
<g transform="translate(667,1825)"><ellipse rx="11" ry="12" fill="#a0e0e0"/><ellipse rx="11" ry="12" fill="url(#hl)"/></g>
<g transform="translate(170,1843)"><ellipse rx="11" ry="12" fill="#d8a080"/><ellipse rx="11" ry="12" fill="url(#hl)"/></g>
<g transform="translate(252,1840)"><ellipse rx="11" ry="12" fill="#e8b0b8"/><ellipse rx="11" ry="12" fill="url(#hl)"/></g>
<g transform="translate(340,1834)"><ellipse rx="11" ry="12" fill="#a0d0e8"/><ellipse rx="11" ry="12" fill="url(#hl)"/></g>
<g transform="translate(240,1860)"><ellipse rx="11" ry="12" fill="#90d090"/><ellipse rx="11" ry="12" fill="url(#hl)"/></g>
<g transform="translate(294,1858)"><ellipse rx="11" ry="12" fill="#a8b8e8"/><ellipse rx="11" ry="12" fill="url(#hl)"/></g>
<g transform="translate(426,1859)"><ellipse rx="11" ry="12" fill="#a8d8e8"/><ellipse rx="11" ry="12" fill="url(#hl)"/></g>
<g transform="translate(602,1865)"><ellipse rx="11" ry="12" fill="#a0e0e0"/><ellipse rx="11" ry="12" fill="url(#hl)"/></g>
<g transform="translate(359,1868)"><ellipse rx="11" ry="12" fill="#b0e0a0"/><ellipse rx="11" ry="12" fill="url(#hl)"/></g>
<g transform="translate(413,1884)"><ellipse rx="11" ry="12" fill="#e0e0a8"/><ellipse rx="11" ry="12" fill="url(#hl)"/></g>
<g transform="translate(554,1886)"><ellipse rx="11" ry="12" fill="#e0c8a0"/><ellipse rx="11" ry="12" fill="url(#hl)"/></g>
<g transform="translate(254,1891)"><ellipse rx="11" ry="12" fill="#e0dca8"/><ellipse rx="11" ry="12" fill="url(#hl)"/></g>
<g transform="translate(300,1897)"><ellipse rx="11" ry="12" fill="#c0e0a0"/><ellipse rx="11" ry="12" fill="url(#hl)"/></g>
<g transform="translate(380,1902)"><ellipse rx="11" ry="12" fill="#a8d8a0"/><ellipse rx="11" ry="12" fill="url(#hl)"/></g>
<g transform="translate(118,1904)"><ellipse rx="11" ry="12" fill="#40a090"/><ellipse rx="11" ry="12" fill="url(#hl)"/></g>
<g transform="translate(619,1904)"><ellipse rx="11" ry="12" fill="#e0e0a0"/><ellipse rx="11" ry="12" fill="url(#hl)"/></g>
<g transform="translate(435,1929)"><ellipse rx="11" ry="12" fill="#90d890"/><ellipse rx="11" ry="12" fill="url(#hl)"/></g>
<g transform="translate(274,1932)"><ellipse rx="11" ry="12" fill="#9898e0"/><ellipse rx="11" ry="12" fill="url(#hl)"/></g>
<g transform="translate(340,1939)"><ellipse rx="11" ry="12" fill="#a8a8e8"/><ellipse rx="11" ry="12" fill="url(#hl)"/></g>
<g transform="translate(134,1954)"><ellipse rx="11" ry="12" fill="#a0b0e0"/><ellipse rx="11" ry="12" fill="url(#hl)"/></g>
<g transform="translate(454,1959)"><ellipse rx="11" ry="12" fill="#a0e0c8"/><ellipse rx="11" ry="12" fill="url(#hl)"/></g>
<g transform="translate(544,1963)"><ellipse rx="11" ry="12" fill="#c8e0a0"/><ellipse rx="11" ry="12" fill="url(#hl)"/></g>
<g transform="translate(189,1979)"><ellipse rx="11" ry="12" fill="#a0e0c8"/><ellipse rx="11" ry="12" fill="url(#hl)"/></g>
<g transform="translate(322,1997)"><ellipse rx="11" ry="12" fill="#dde0a8"/><ellipse rx="11" ry="12" fill="url(#hl)"/></g>
<g transform="translate(409,2032)"><ellipse rx="11" ry="12" fill="#ddd8a8"/><ellipse rx="11" ry="12" fill="url(#hl)"/></g>
<g transform="translate(519,2031)"><ellipse rx="11" ry="12" fill="#8aa8e0"/><ellipse rx="11" ry="12" fill="url(#hl)"/></g>
<g transform="translate(603,2023)"><ellipse rx="11" ry="12" fill="#a0c0e8"/><ellipse rx="11" ry="12" fill="url(#hl)"/></g>
<g transform="translate(277,2041)"><ellipse rx="11" ry="12" fill="#a8e0c8"/><ellipse rx="11" ry="12" fill="url(#hl)"/></g>
<g transform="translate(484,2071)"><ellipse rx="11" ry="12" fill="#e0c8a0"/><ellipse rx="11" ry="12" fill="url(#hl)"/></g>
</g>
<g font-size="6" fill="#333">
<text x="328" y="1553">GSTP1</text><text x="427" y="1543">FGG</text><text x="500" y="1546">APOA1</text><text x="459" y="1570">FGB</text><text x="552" y="1573">TTR</text><text x="424" y="1611">TMSB4X</text><text x="290" y="1607">ARHGDIB</text><text x="201" y="1628">HIBCH</text><text x="615" y="1630">S100A13</text><text x="293" y="1656">AHSA1</text><text x="456" y="1660">YWHAE</text><text x="225" y="1672">LAP3</text><text x="142" y="1677">ATP6V1F</text><text x="578" y="1664">LGALS3</text><text x="395" y="1683">PSMA2</text><text x="218" y="1690">NEDD8</text><text x="344" y="1707">PSMC4</text><text x="564" y="1704">SELENBP1</text><text x="25" y="1722">AADAT</text><text x="266" y="1728">SOD2</text><text x="314" y="1735">CAT</text><text x="496" y="1732">VIM</text><text x="624" y="1731">S100A4</text><text x="590" y="1757">KRT8</text><text x="166" y="1773">PPA1</text><text x="274" y="1767">VDAC1</text><text x="344" y="1775">HSP90AB1</text><text x="416" y="1772">ACTB</text><text x="437" y="1790">GAPDH</text><text x="594" y="1786">S100A6</text><text x="56" y="1794">PNP</text><text x="249" y="1798">TPI1</text><text x="389" y="1811">ENO1</text><text x="544" y="1810">ANXA2</text><text x="624" y="1819">S100A9</text><text x="678" y="1816">S100A</text><text x="180" y="1835">ACO2</text><text x="262" y="1831">LDHB</text><text x="351" y="1825">PGK1</text><text x="250" y="1859">HSPD1</text><text x="304" y="1850">UBA52</text><text x="437" y="1850">PGAM1</text><text x="613" y="1856">S100A8</text><text x="370" y="1860">HSPA5</text><text x="424" y="1875">CCT5</text><text x="565" y="1877">ANXA1</text><text x="265" y="1883">PRDX1</text><text x="311" y="1888">HSPA9</text><text x="391" y="1893">CFL1</text><text x="129" y="1895">C1QBP</text><text x="630" y="1895">S100A11</text><text x="446" y="1920">RPLP0</text><text x="285" y="1923">POTEE</text><text x="351" y="1930">PPIA</text><text x="145" y="1945">MPST</text><text x="465" y="1950">TAGLN2</text><text x="555" y="1955">KCTD9</text><text x="200" y="1970">S100A16</text><text x="333" y="1988">NPM1</text><text x="420" y="2023">DARS</text><text x="530" y="2022">FABP3</text><text x="614" y="2014">TPD52</text><text x="288" y="2032">LMNA</text><text x="495" y="2062">FABP4</text>
</g>
</svg>

<!-- Panel F -->
<div class="a big" style="left:0;top:2118px">F</div>
<div class="a" style="left:133px;top:2258px;width:1px;height:435px;background:#e2e8f2"></div>
<div class="a" style="left:374px;top:2258px;width:1px;height:435px;background:#e2e8f2"></div>
<div class="a" style="left:524px;top:2258px;width:1px;height:435px;background:#e2e8f2"></div>

<table class="t" style="top:2115px;background:#fff">
<col style="width:97px"><col style="width:241px"><col style="width:150px"><col style="width:170px">
<tr><td class="ti" colspan="4">Biological Process (GO)</td></tr>
<tr class="h"><td>Pathway ID</td><td>Pathway description</td><td>Count in gene set</td><td>False discovery rate</td></tr>
<tr><td>GO:0019674</td><td>NAD metabolic process</td><td>7</td><td>2.97E-06</td></tr>
<tr><td>GO:0002576</td><td>platelet degranulation</td><td>7</td><td>1.18E-05</td></tr>
<tr><td>GO:0042981</td><td>regulation of apoptotic process</td><td>19</td><td>1.18E-05</td></tr>
<tr><td>GO:0002376</td><td>immune system process</td><td>22</td><td>1.28E-05</td></tr>
<tr><td>GO:0006955</td><td>immune response</td><td>18</td><td>1.28E-05</td></tr>
</table>
<div class="sec" style="top:2115px;height:145px"></div>

<table class="t" style="top:2273px;background:#fff">
<col style="width:97px"><col style="width:241px"><col style="width:150px"><col style="width:170px">
<tr><td class="ti" colspan="4">Molecular Function (GO)</td></tr>
<tr class="h"><td>Pathway ID</td><td>Pathway description</td><td>Count in gene set</td><td>False discovery rate</td></tr>
<tr><td>GO:0050786</td><td>RAGE receptor binding</td><td>5</td><td>6.56E-08</td></tr>
<tr><td>GO:0044822</td><td>poly(A) RNA binding</td><td>17</td><td>5.05E-05</td></tr>
<tr><td>GO:0005509</td><td>calcium ion binding</td><td>12</td><td>4.39E-04</td></tr>
<tr><td>GO:0003723</td><td>RNA binding</td><td>19</td><td>6.59E-05</td></tr>
<tr><td>GO:0044548</td><td>S100 protein binding</td><td>3</td><td>1.50E-03</td></tr>
</table>
<div class="sec" style="top:2273px;height:144px"></div>

<table class="t" style="top:2431px;background:#fff">
<col style="width:97px"><col style="width:241px"><col style="width:150px"><col style="width:170px">
<tr><td class="ti" colspan="4">Cellular Component (GO)</td></tr>
<tr class="h"><td>Pathway ID</td><td>Pathway description</td><td>Count in gene set</td><td>False discovery rate</td></tr>
<tr><td>GO:0070062</td><td>extracellular exosome</td><td>53</td><td>3.58E-34</td></tr>
<tr><td>GO:0031988</td><td>membrane-bounded vesicle</td><td>54</td><td>4.19E-31</td></tr>
<tr><td>GO:0044421</td><td>extracellular region part</td><td>52</td><td>5.09E-27</td></tr>
<tr><td>GO:0005576</td><td>extracellular region</td><td>52</td><td>2.13E-23</td></tr>
<tr><td>GO:0005615</td><td>extracellular space</td><td>24</td><td>8.40E-12</td></tr>
</table>
<div class="sec" style="top:2431px;height:144px"></div>

<table class="t" style="top:2588px;background:#fff">
<col style="width:97px"><col style="width:241px"><col style="width:150px"><col style="width:170px">
<tr><td class="ti" colspan="4">KEGG Pathways</td></tr>
<tr class="h"><td>Pathway ID</td><td>Pathway description</td><td>Count in gene set</td><td>False discovery rate</td></tr>
<tr><td>1230</td><td>Biosynthesis of amino acids</td><td>6</td><td>2.37E-05</td></tr>
<tr><td>1200</td><td>Carbon metabolism</td><td>6</td><td>1.13E-04</td></tr>
<tr><td>10</td><td>Glycolysis / Gluconeogenesis</td><td>5</td><td>1.17E-04</td></tr>
</table>
<div class="sec" style="top:2588px;height:106px"></div>

</body></html>
